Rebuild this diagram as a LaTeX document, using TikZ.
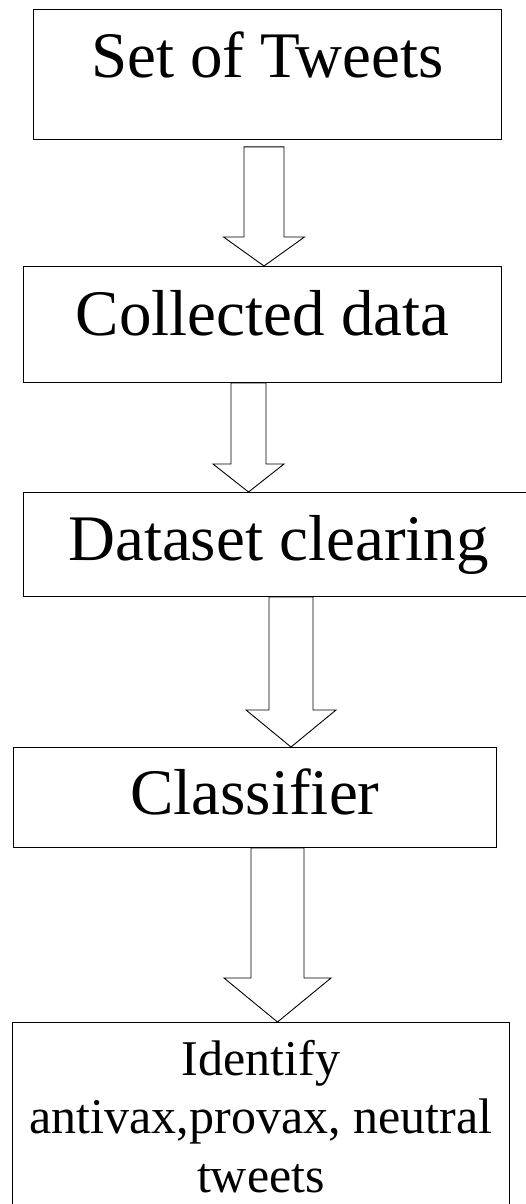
\documentclass[tikz,border=0pt]{standalone}
\usepackage{fontspec}
\setmainfont{Liberation Serif}
\usetikzlibrary{calc}
\tikzset{
  stage/.style={draw, line width=0.9pt, inner sep=0pt, anchor=north west,
    font=\fontsize{65}{78}\selectfont},
  fat/.style={draw, line width=0.9pt, line join=miter}
}
% [gap]{from}{to}{x}{shaft half}{head half}{head length}
\newcommand{\fatarrow}[7][0]{%
  \draw[fat] let \p1=(#2.south), \p2=(#3.north) in
    (#4pt-#5pt,\y1-#1pt) -- (#4pt-#5pt,\y2+#7pt) -- (#4pt-#6pt,\y2+#7pt) -- (#4pt,\y2)
    -- (#4pt+#6pt,\y2+#7pt) -- (#4pt+#5pt,\y2+#7pt) -- (#4pt+#5pt,\y1-#1pt) -- cycle;}
\begin{document}
\begin{tikzpicture}[x=1pt,y=-1pt]
    \useasboundingbox (0,0) rectangle (526,1204);

    \node[stage, minimum width=468pt, text height=68pt, text depth=62pt] (tweets) at (33,9) {Set of Tweets};
    \node[stage, minimum width=478pt, text height=69pt, text depth=47pt] (collected) at (23,266) {Collected data};
    \node[stage, minimum width=510pt, text height=68pt, text depth=36pt] (clearing) at (23,492) {Dataset clearing};
    \node[stage, minimum width=483pt, text height=67pt, text depth=33pt] (classifier) at (13,747) {Classifier};
    \node[stage, text height=53pt, text depth=147pt, font=\fontsize{50}{58.5}\selectfont] (identify) at (12,1022)
        {\parbox[t]{497pt}{\centering Identify\\antivax,provax, neutral\\tweets}};

    \fatarrow[7]{tweets}{collected}{264}{20}{40.5}{29}
    \fatarrow{collected}{clearing}{248.5}{17.5}{35.5}{28}
    \fatarrow{clearing}{classifier}{291}{22}{45}{37}
    \fatarrow{classifier}{identify}{277.5}{26.5}{53.5}{44}
\end{tikzpicture}
\end{document}
